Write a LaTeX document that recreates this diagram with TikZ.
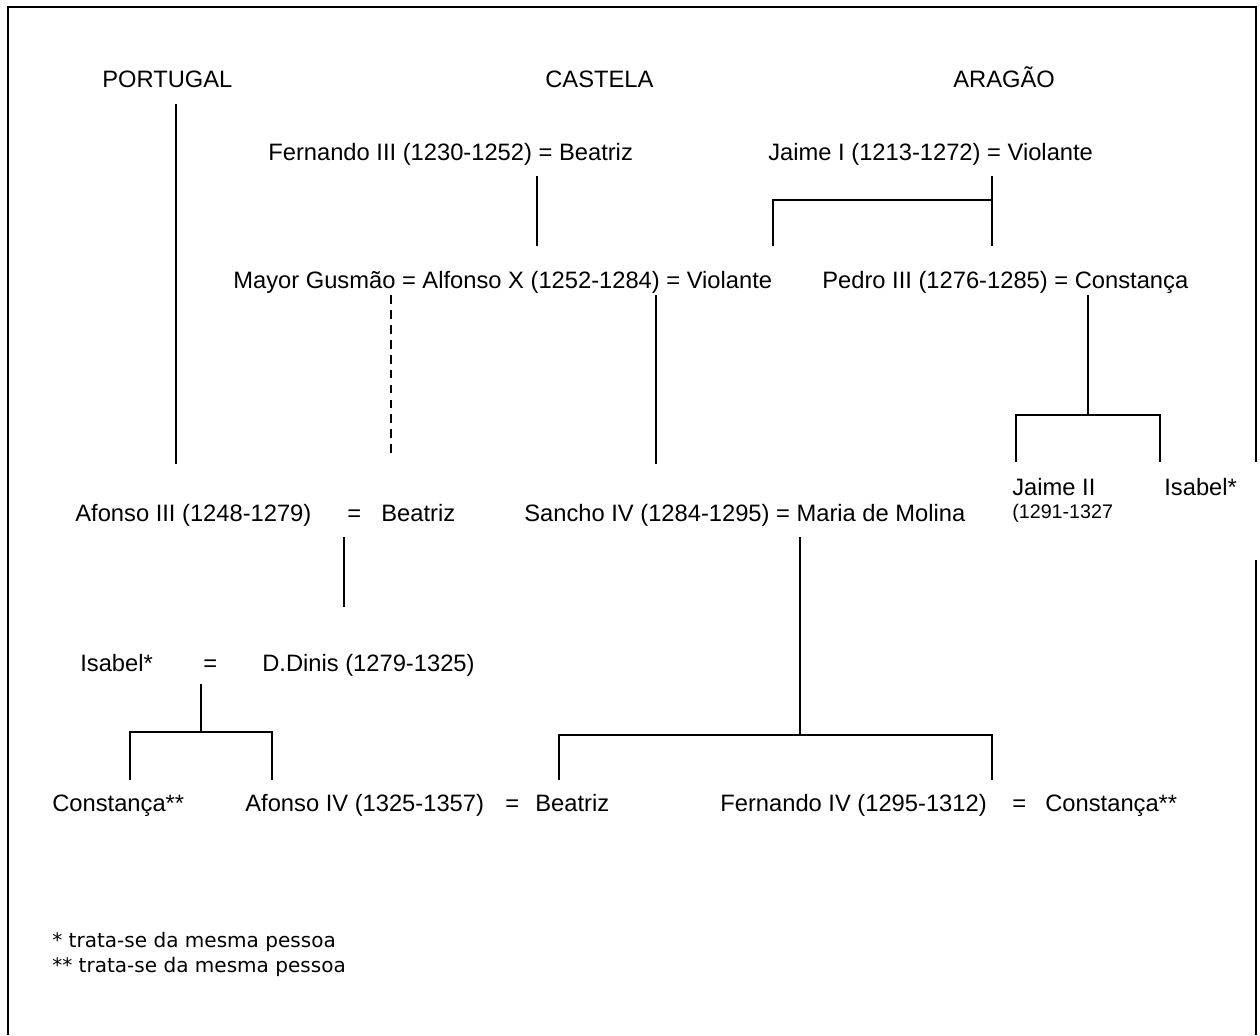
\documentclass[tikz,border=0pt]{standalone}
\usepackage{fontspec}
\setmainfont{Liberation Sans}
\newfontfamily\notefont{DejaVu Sans}
\usepackage{tikz}
\usetikzlibrary{positioning}

\begin{document}
\begin{tikzpicture}[x=0.02cm, y=-0.02cm,
    every node/.style={inner sep=0pt, anchor=base west, font=\fontsize{13.5}{16}\selectfont},
    tie/.style={line width=1pt},
    small/.style={font=\fontsize{11.2}{13}\selectfont},
    note/.style={font=\notefont\fontsize{11.4}{13}\selectfont}]
  \useasboundingbox (0,0) rectangle (1260,1035);
  % frame (open at the bottom)
  \draw[line width=1.1pt] (8,1035) -- (8,7) -- (1256,7) -- (1256,462);
  \draw[line width=1.1pt] (1256,560) -- (1256,1035);

  % kingdoms
  \node (port) at (102,87) {PORTUGAL};
  \node (cast) at (545,87) {CASTELA};
  \node (arag) at (953,87) {ARAGÃO};

  % people
  \node (fern) at (268,160) {Fernando III (1230-1252) = Beatriz};
  \node (jaime) at (768,160) {Jaime I (1213-1272) = Violante};
  \node (alfx) at (233,288) {Mayor Gusmão = Alfonso X (1252-1284) = Violante};
  \node (pedro) at (822,288) {Pedro III (1276-1285) = Constança};
  \node (af3) at (75,521) {Afonso III (1248-1279)};
  \node (eq1) at (347,521) {=};
  \node (beat1) at (381,521) {Beatriz};
  \node (sancho) at (524,521) {Sancho IV (1284-1295) = Maria de Molina};
  \node (jaime2) at (1012,495) {Jaime II};
  \node[small] (jdates) at (1012,518) {(1291-1327};
  \node (isab1) at (1164,495) {Isabel*};
  \node (isab2) at (80,671) {Isabel*};
  \node (eq2) at (203,671) {=};
  \node (dinis) at (262,671) {D.Dinis (1279-1325)};
  \node (cons1) at (52,811) {Constança**};
  \node (af4) at (245,811) {Afonso IV (1325-1357)};
  \node (eq3) at (505,811) {=};
  \node (beat2) at (535,811) {Beatriz};
  \node (fern4) at (720,811) {Fernando IV (1295-1312)};
  \node (eq4) at (1012,811) {=};
  \node (cons2) at (1045,811) {Constança**};

  % footnotes
  \node[note] (n1) at (52,947) {* trata-se da mesma pessoa};
  \node[note] (n2) at (52,972) {** trata-se da mesma pessoa};

  % line ends
  \coordinate (p1) at (176,104);  \coordinate (p2) at (176,464);
  \coordinate (f1) at (537,176);  \coordinate (f2) at (537,246);
  \coordinate (j1) at (992,176);  \coordinate (j2) at (992,200);
  \coordinate (j3) at (992,246);  \coordinate (j4) at (773,200);
  \coordinate (j5) at (773,246);
  \coordinate (m1) at (391,295);  \coordinate (m2) at (391,458);
  \coordinate (x1) at (656,295);  \coordinate (x2) at (656,464);
  \coordinate (c1) at (1088,295); \coordinate (c2) at (1088,415);
  \coordinate (c3) at (1016,415); \coordinate (c4) at (1016,462);
  \coordinate (c5) at (1160,415); \coordinate (c6) at (1160,462);
  \coordinate (a1) at (344,537);  \coordinate (a2) at (344,607);
  \coordinate (s1) at (800,537);  \coordinate (s2) at (800,735);
  \coordinate (s3) at (559,735);  \coordinate (s4) at (559,780);
  \coordinate (s5) at (992,735);  \coordinate (s6) at (992,780);
  \coordinate (d1) at (201,684);  \coordinate (d2) at (201,732);
  \coordinate (d3) at (130,732);  \coordinate (d4) at (130,780);
  \coordinate (d5) at (272,732);  \coordinate (d6) at (272,780);

  % descent
  \draw[tie] (p1) -- (p2);
  \draw[tie] (f1) -- (f2);
  \draw[tie] (j1) -- (j3);
  \draw[tie] (j5) -- (j4) -- (j2);
  \draw[tie, dash pattern=on 5pt off 3.5pt] (m1) -- (m2);
  \draw[tie] (x1) -- (x2);
  \draw[tie] (c1) -- (c2);
  \draw[tie] (c4) -- (c3) -- (c5) -- (c6);
  \draw[tie] (a1) -- (a2);
  \draw[tie] (s1) -- (s2);
  \draw[tie] (s4) -- (s3) -- (s5) -- (s6);
  \draw[tie] (d1) -- (d2);
  \draw[tie] (d4) -- (d3) -- (d5) -- (d6);
\end{tikzpicture}
\end{document}
